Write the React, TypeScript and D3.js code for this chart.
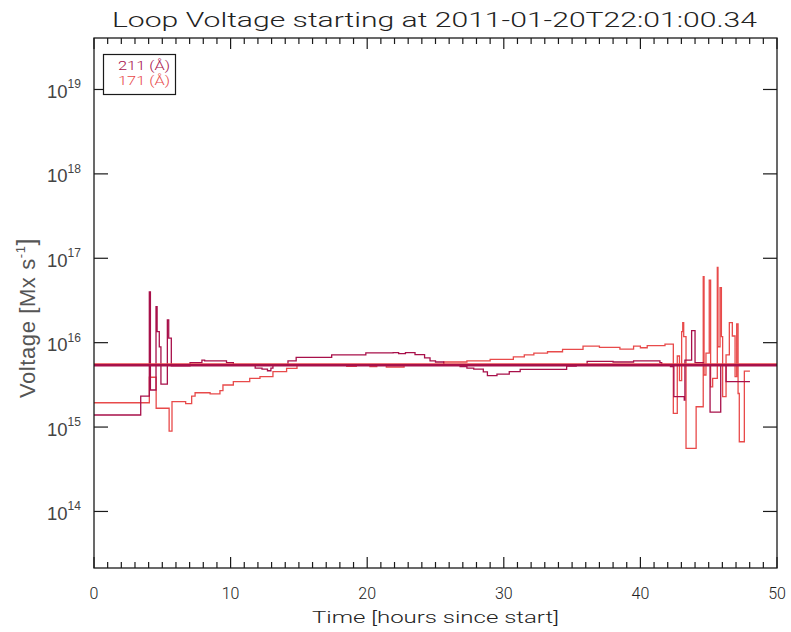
import React from "react";
import * as d3 from "d3";

// ---- data ----
const titleText = "Loop Voltage starting at 2011-01-20T22:01:00.34";
const xTicksMajor = [0, 10, 20, 30, 40, 50];
const yTickExps = [14, 15, 16, 17, 18, 19];
const legendLabels = ["211 (Å)", "171 (Å)"];

// step series: [hours since start, voltage Mx/s]
const series211: [number, number][] = [
  [0, 1.39e15], [3.42, 2.33e15], [4.05, 4.0e16], [4.13, 2.75e15], [4.54, 2.67e16],
  [4.62, 1.35e16], [4.78, 8.9e15], [4.9, 3.23e15], [5.37, 1.86e16], [5.47, 1.13e16],
  [5.66, 5.3e15], [7.03, 5.8e15], [7.9, 6.2e15], [8.1, 6.07e15], [9.7, 5.8e15],
  [10.2, 5.45e15], [11.8, 5.0e15], [12.3, 4.85e15], [12.7, 4.65e15], [12.95, 5.0e15],
  [13.1, 5.4e15], [14.2, 6.07e15], [14.8, 6.7e15], [17.4, 7.15e15], [19.9, 7.55e15],
  [21.9, 7.6e15], [22.3, 7.4e15], [22.8, 7.6e15], [23.5, 7.2e15], [24.2, 6.6e15],
  [24.6, 6.1e15], [25.0, 5.9e15], [25.6, 5.4e15], [26.8, 5.2e15], [27.3, 5.0e15],
  [27.8, 4.85e15], [28.5, 4.5e15], [28.8, 4.06e15], [29.5, 4.25e15], [30.4, 4.55e15],
  [31.2, 4.83e15], [34.6, 5.29e15], [35.3, 5.4e15], [36.1, 6.0e15], [38.0, 5.9e15],
  [39.5, 6.07e15], [41.43, 5.8e15], [41.56, 5.4e15], [42.2, 5.2e15], [42.45, 2.3e15],
  [43.21, 2.09e15], [43.26, 6.2e15], [43.75, 1.39e16], [44.0, 5.8e15], [44.6, 5.4e15],
  [45.1, 1.5e15], [45.88, 5.4e15], [46.27, 3.45e15], [48.02, 3.45e15],
];

const series171: [number, number][] = [
  [0, 1.94e15], [4.05, 3.89e15], [4.55, 1.67e15], [5.5, 8.97e14], [5.71, 2.0e15],
  [6.71, 1.9e15], [7.15, 2.33e15], [7.4, 2.55e15], [8.5, 2.47e15], [9.22, 2.7e15],
  [9.44, 3.15e15], [10.2, 3.45e15], [11.4, 3.78e15], [12.15, 3.95e15], [13.1, 4.53e15],
  [14.1, 4.97e15], [14.86, 5.45e15], [18.5, 5.25e15], [19.2, 5.5e15], [20.2, 5.2e15],
  [20.7, 5.5e15], [21.4, 5.15e15], [22.7, 5.5e15], [25.6, 5.9e15], [27.3, 6.1e15],
  [29.0, 6.35e15], [30.7, 6.8e15], [31.5, 7.15e15], [32.2, 7.5e15], [33.2, 7.8e15],
  [34.3, 8.35e15], [35.8, 9.1e15], [37.0, 8.8e15], [38.5, 8.4e15], [39.5, 9.1e15],
  [40.0, 8.7e15], [40.5, 9.2e15], [41.8, 9.6e15], [42.41, 1.45e15], [42.7, 6.95e15],
  [42.86, 3.55e15], [43.02, 1.35e16], [43.1, 1.73e16], [43.17, 1.18e16], [43.34, 5.6e14],
  [44.08, 1.74e15], [44.6, 6.05e16], [44.66, 4.14e15], [44.8, 7.5e15], [45.04, 5.5e16],
  [45.14, 3.0e15], [45.29, 3.78e15], [45.63, 7.8e16], [45.68, 8.95e15], [45.83, 4.5e16],
  [45.93, 1.18e16], [46.02, 2.3e15], [46.27, 7.15e15], [46.51, 1.73e16], [46.73, 1.2e16],
  [46.93, 3.95e15], [47.05, 1.67e16], [47.15, 2.5e15], [47.24, 6.7e14], [47.61, 4.6e15],
  [48.02, 4.6e15],
];

const level171 = 5.55e15;
const level211 = 5.4e15;

const color211 = "#a8104a";
const color171 = "#e84a4a";

export default function App() {
  const W = 791, H = 632;
  const left = 94, right = 777, top = 38, bottom = 568;
  const x = d3.scaleLinear().domain([0, 50]).range([left, right]);
  const y = d3.scaleLog().domain([10 ** 13.33, 10 ** 19.61]).range([bottom, top]);

  const line = d3
    .line<[number, number]>()
    .x((d) => x(d[0]))
    .y((d) => y(d[1]))
    .curve(d3.curveStepAfter);

  const minorTicks = d3.range(0, 51, 1);
  const axisColor = "#1a1a1a";
  const hershey = "Roboto, 'DejaVu Sans', sans-serif";
  const helv = "'Liberation Sans', Arial, sans-serif";

  return (
    <svg
      width={W}
      height={H}
      style={{ position: "absolute", left: 0, top: 0, background: "#fff" }}
    >
      <rect x={0} y={0} width={W} height={H} fill="#fff" />
      {/* data */}
      <g fill="none" strokeWidth={1.3}>
        <path d={line(series171) || ""} stroke={color171} />
        <path d={line(series211) || ""} stroke={color211} />
        <line x1={left} x2={right} y1={y(level171)} y2={y(level171)} stroke={color171} strokeWidth={2} />
        <line x1={left} x2={right} y1={y(level211)} y2={y(level211)} stroke={color211} strokeWidth={2.4} />
      </g>

      {/* frame */}
      <rect x={left} y={top} width={right - left} height={bottom - top} fill="none" stroke={axisColor} strokeWidth={1.3} />

      {/* ticks */}
      <g stroke={axisColor} strokeWidth={1.2}>
        {minorTicks.map((t) => {
          const major = t % 10 === 0;
          const len = major ? 11 : 6;
          const xx = x(t);
          return (
            <g key={"xt" + t}>
              <line x1={xx} x2={xx} y1={bottom} y2={bottom - len} />
              <line x1={xx} x2={xx} y1={top} y2={top + len} />
            </g>
          );
        })}
        {yTickExps.map((e) => {
          const yy = y(10 ** e);
          return (
            <g key={"yt" + e}>
              <line x1={left} x2={left + 14} y1={yy} y2={yy} />
              <line x1={right} x2={right - 14} y1={yy} y2={yy} />
            </g>
          );
        })}
      </g>

      {/* x tick labels */}
      <g fontFamily={hershey} fontWeight={300} fontSize={16} fill="#222" textAnchor="middle">
        {xTicksMajor.map((t) => (
          <text key={"xl" + t} x={x(t)} y={599}>
            {t}
          </text>
        ))}
        <text x={(left + right) / 2} y={623} textLength={247} lengthAdjust="spacingAndGlyphs">
          Time [hours since start]
        </text>
      </g>

      {/* y tick labels */}
      <g fontFamily={helv} fill="#444">
        {yTickExps.map((e) => {
          const yy = y(10 ** e);
          return (
            <text key={"yl" + e} x={47} y={yy + 8.5} fontSize={18.5}>
              10
              <tspan fontSize={12} dy={-9.5}>
                {e}
              </tspan>
            </text>
          );
        })}
      </g>

      {/* y title */}
      <text
        transform={`translate(35, 318) rotate(-90)`}
        textAnchor="middle"
        fontFamily={helv}
        fontSize={22}
        fill="#555"
        letterSpacing={0.6}
      >
        Voltage  [Mx  s
        <tspan fontSize={13} dy={-10}>-1</tspan>
        <tspan dy={10} fontSize={25}>]</tspan>
      </text>

      {/* title */}
      <text
        x={434.5}
        y={27}
        textAnchor="middle"
        fontFamily={hershey}
        fontWeight={300}
        fontSize={21}
        fill="#222"
        textLength={645}
        lengthAdjust="spacingAndGlyphs"
      >
        {titleText}
      </text>

      {/* legend */}
      <rect x={103.5} y={54.5} width={72} height={40} fill="#fff" stroke={axisColor} strokeWidth={1.2} />
      <g fontFamily={hershey} fontWeight={300} fontSize={13.5}>
        <text x={118} y={70} fill={color211} textLength={52} lengthAdjust="spacingAndGlyphs">{legendLabels[0]}</text>
        <text x={118} y={85} fill={color171} textLength={52} lengthAdjust="spacingAndGlyphs">{legendLabels[1]}</text>
      </g>
    </svg>
  );
}
